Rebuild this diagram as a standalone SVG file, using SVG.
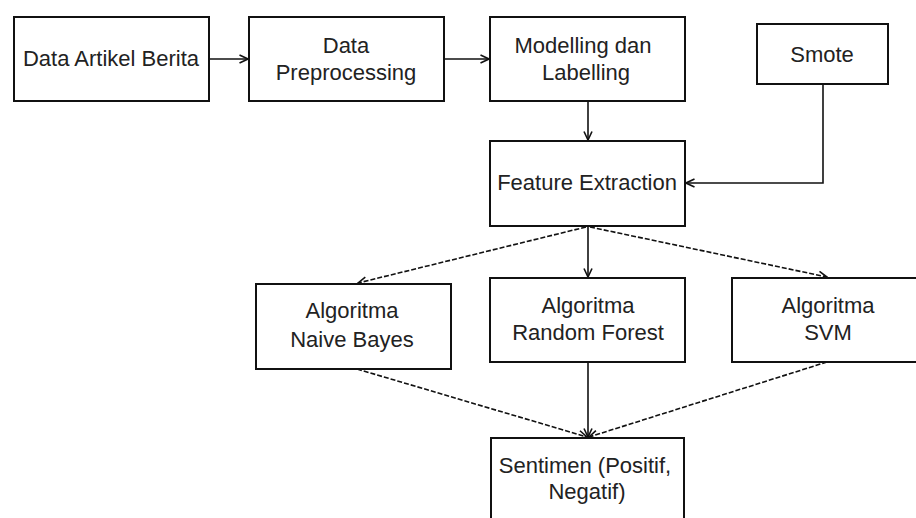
<svg xmlns="http://www.w3.org/2000/svg" width="916" height="518" viewBox="0 0 916 518">
<defs>
<style>
.box{fill:#fff;stroke:#111;stroke-width:2}
.t{font-family:"Liberation Sans",Arial,sans-serif;font-size:22px;fill:#222;text-anchor:middle}
.c{fill:none;stroke:#111;stroke-width:1.6}
.d{stroke-dasharray:5,2}
</style>
<marker id="ah" viewBox="0 0 10 10" refX="9.5" refY="5" markerWidth="10" markerHeight="10" markerUnits="userSpaceOnUse" orient="auto">
<path d="M1,1 L9.5,5 L1,9" fill="none" stroke="#111" stroke-width="1.6"/>
</marker>
</defs>
<rect width="916" height="518" fill="#fff"/>
<g id="connectors">
<path class="c" d="M209,59 H248" marker-end="url(#ah)"/>
<path class="c" d="M444,59 H489" marker-end="url(#ah)"/>
<path class="c" d="M588,101 V140" marker-end="url(#ah)"/>
<path class="c" d="M823,84 V183 H686" marker-end="url(#ah)"/>
<path class="c d" d="M586,227 L358,283" marker-end="url(#ah)"/>
<path class="c" d="M588,227 V277" marker-end="url(#ah)"/>
<path class="c d" d="M590,227 L827,277" marker-end="url(#ah)"/>
<path class="c d" d="M357,369 L587,437" marker-end="url(#ah)"/>
<path class="c" d="M588,362 V437" marker-end="url(#ah)"/>
<path class="c d" d="M827,362 L589,437" marker-end="url(#ah)"/>
</g>
<g id="data-artikel">
<rect class="box" x="14" y="17" width="195" height="84"/>
<text class="t" x="111" y="66">Data Artikel Berita</text>
</g>
<g id="preprocessing">
<rect class="box" x="249" y="17" width="195" height="84"/>
<text class="t" x="346" y="53">Data</text>
<text class="t" x="346" y="80">Preprocessing</text>
</g>
<g id="modelling">
<rect class="box" x="490" y="17" width="195" height="84"/>
<text class="t" x="583" y="53">Modelling dan</text>
<text class="t" x="586" y="80">Labelling</text>
</g>
<g id="smote">
<rect class="box" x="757" y="24" width="131" height="60"/>
<text class="t" x="822" y="62">Smote</text>
</g>
<g id="feature">
<rect class="box" x="490" y="141" width="195" height="85"/>
<text class="t" x="587" y="190">Feature Extraction</text>
</g>
<g id="naive-bayes">
<rect class="box" x="256" y="284" width="195" height="85"/>
<text class="t" x="352" y="318">Algoritma</text>
<text class="t" x="352" y="347">Naive Bayes</text>
</g>
<g id="random-forest">
<rect class="box" x="490" y="278" width="195" height="84"/>
<text class="t" x="588" y="313">Algoritma</text>
<text class="t" x="588" y="340">Random Forest</text>
</g>
<g id="svm">
<rect class="box" x="732" y="278" width="195" height="84"/>
<text class="t" x="828" y="313">Algoritma</text>
<text class="t" x="828" y="340">SVM</text>
</g>
<g id="sentimen">
<rect class="box" x="491" y="438" width="193" height="90"/>
<text class="t" x="585" y="473">Sentimen (Positif,</text>
<text class="t" x="587" y="499">Negatif)</text>
</g>
</svg>
